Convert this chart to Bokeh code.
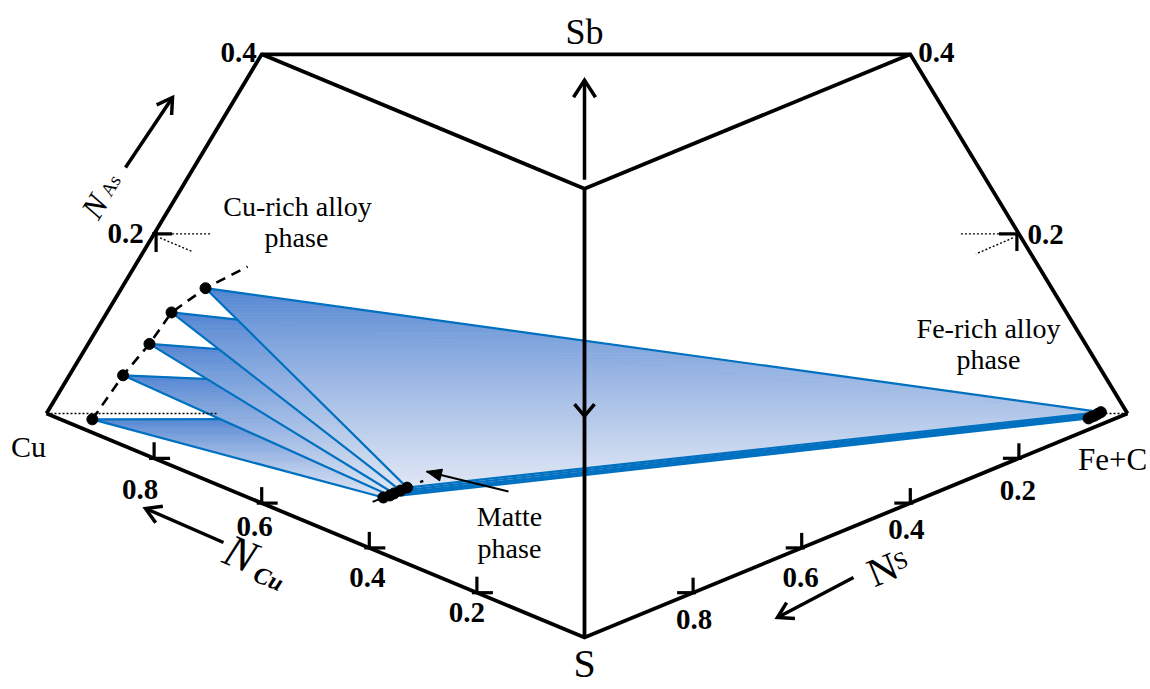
import numpy as np
from bokeh.plotting import figure
from bokeh.models import Range1d
from bokeh.embed import file_html
from bokeh.resources import INLINE
from bokeh.core.properties import value

W, H = 1150, 689
FONT = value("Liberation Serif")

# ---- data: tie-triangle compositions (mole fractions, N_Cu = 1 - N_S - N_Fe - N_As)
alloy_S = [0.030, 0.030, 0.030, 0.030, 0.030]
alloy_Fe = [0.027, 0.031, 0.038, 0.041, 0.059]
alloy_As = [0.001, 0.050, 0.085, 0.120, 0.147]

matte_S = [0.383, 0.386, 0.389, 0.388, 0.387]
matte_Fe = [0.120, 0.123, 0.124, 0.129, 0.134]
matte_As = [0.002, 0.005, 0.008, 0.011, 0.014]

fe_S = [0.030, 0.030, 0.030, 0.030, 0.030]
fe_Fe = [0.948, 0.950, 0.952, 0.954, 0.956]
fe_As = [0.002, 0.004, 0.005, 0.007, 0.009]

# last point of the Cu-rich alloy boundary curve
curve_end = (0.030, 0.086, 0.171)

cu_ticks = [0.8, 0.6, 0.4, 0.2]
s_ticks = [0.8, 0.6, 0.4, 0.2]
as_mid = 0.2
as_top = 0.4

# ---- projection of the Cu-S-(Fe+C)-As tetrahedron onto the page
V_CU = np.array([46.0, 276.0])
V_S = np.array([584.0, 52.0])
V_FE = np.array([1127.0, 276.0])
V_AS = np.array([584.0, 1174.0])


def proj(s, fe, a):
    s, fe, a = (np.asarray(v, dtype=float) for v in (s, fe, a))
    cu = 1.0 - s - fe - a
    x = cu * V_CU[0] + s * V_S[0] + fe * V_FE[0] + a * V_AS[0]
    y = cu * V_CU[1] + s * V_S[1] + fe * V_FE[1] + a * V_AS[1]
    return x, y


p = figure(width=W, height=H, x_range=Range1d(0, W), y_range=Range1d(0, H),
           output_backend="svg", toolbar_location=None,
           x_axis_location=None, y_axis_location=None, min_border=0)
p.outline_line_color = None
p.grid.visible = False
p.background_fill_color = "white"
p.border_fill_color = "white"

# ---- gradient-filled tie triangles
TOP = np.array([78, 130, 209])
BOT = np.array([224, 231, 245])
EDGE = "#0070c0"


def clip(poly, y0, keep_above):
    out = []
    n = len(poly)
    for i in range(n):
        P, Q = poly[i], poly[(i + 1) % n]
        inP = P[1] >= y0 if keep_above else P[1] <= y0
        inQ = Q[1] >= y0 if keep_above else Q[1] <= y0
        if inP:
            out.append(P)
        if inP != inQ:
            t = (y0 - P[1]) / (Q[1] - P[1])
            out.append((P[0] + t * (Q[0] - P[0]), y0))
    return out


ax, ay = proj(alloy_S, alloy_Fe, alloy_As)
mx, my = proj(matte_S, matte_Fe, matte_As)
fx, fy = proj(fe_S, fe_Fe, fe_As)

NSL = 70
for i in range(len(alloy_S)):
    tri = [(ax[i], ay[i]), (fx[i], fy[i]), (mx[i], my[i])]
    ys_ = [q[1] for q in tri]
    ytop, ybot = max(ys_), min(ys_)
    h = (ytop - ybot) / NSL
    xs, ys, cols = [], [], []
    for k in range(NSL):
        y1 = ytop - k * h
        y0 = ytop - (k + 1) * h
        poly = clip(clip(tri, y0, True), y1, False)
        if len(poly) < 3:
            continue
        t = ((k + 0.5) / NSL) ** 0.8
        c = (TOP + (BOT - TOP) * t).astype(int)
        xs.append([q[0] for q in poly])
        ys.append([q[1] for q in poly])
        cols.append("#%02x%02x%02x" % tuple(c))
    p.patches(xs, ys, fill_color=cols, line_color=cols, line_width=0.8)
    p.patch([q[0] for q in tri], [q[1] for q in tri], fill_alpha=0,
            line_color=EDGE, line_width=2.2, line_join="round")

# ---- frame of the truncated tetrahedron
cu = proj(0, 0, 0)
s_ = proj(1, 0, 0)
fe = proj(0, 1, 0)
tl = proj(0, 0, as_top)
tr = proj(0, 1 - as_top, as_top)
ctr = proj(1 - as_top, 0, as_top)
frame = [[cu, tl, tr, fe], [cu, s_, fe], [tl, ctr, tr], [ctr, s_]]
p.multi_line([[float(q[0]) for q in f] for f in frame],
             [[float(q[1]) for q in f] for f in frame],
             line_color="black", line_width=3.8, line_join="miter")

LW = 3.5


def head(tail, tip, length, half, width=LW, filled=False):
    tail, tip = np.array(tail, float), np.array(tip, float)
    d = tip - tail
    d /= np.hypot(*d)
    n = np.array([-d[1], d[0]])
    a = tip - length * d + half * n
    b = tip - length * d - half * n
    if filled:
        p.patch([a[0], tip[0], b[0]], [a[1], tip[1], b[1]], color="black")
    else:
        p.line([a[0], tip[0], b[0]], [a[1], tip[1], b[1]], line_color="black",
               line_width=width, line_join="miter")


def arrow(tail, tip, length, half, width=LW, filled=False):
    p.line([tail[0], tip[0]], [tail[1], tip[1]], line_color="black", line_width=width)
    head(tail, tip, length, half, width, filled)


# Sb direction and the downward arrow toward S
cx, cy = float(ctr[0]), float(ctr[1])
arrow((cx, cy + 9), (cx, float(tl[1]) - 26), 17, 11)
mid_y = (cy + float(s_[1])) / 2 - 3
head((cx, cy), (cx, mid_y), 12, 10)

# composition-axis arrows
arrow((125, 522), (172, 592), 15, 9)
arrow((223, 147), (145, 181), 15, 9)
arrow((853, 112), (777, 72), 15, 9)
# pointer to the matte phase
arrow((508, 198), (426, 218), 15, 6, width=2, filled=True)

# ---- ticks on the edges
tk = dict(line_color="black", line_width=3.2)
for v in cu_ticks:
    x, y = (float(c) for c in proj(1 - v, 0, 0))
    p.line([x, x], [y, y + 16], **tk)
    p.line([x - 5, x + 16], [y, y], **tk)
for v in s_ticks:
    x, y = (float(c) for c in proj(v, 1 - v, 0))
    p.line([x, x], [y, y + 15], **tk)
    p.line([x - 16, x + 3], [y, y], **tk)

lx, ly = (float(c) for c in proj(0, 0, as_mid))
p.line([lx - 2, lx + 18], [ly, ly], **tk)
p.line([lx + 2, lx + 2], [ly + 3, ly - 18], **tk)
rx, ry = (float(c) for c in proj(0, 1 - as_mid, as_mid))
p.line([rx - 20, rx], [ry, ry], **tk)
p.line([rx - 2, rx - 2], [ry + 1, ry - 17], **tk)

# dotted guides along Cu-Fe and toward S
dot = dict(line_color="black", line_width=1.4, line_dash="2 2")
p.line([float(cu[0]), float(cu[0]) + 170], [float(cu[1])] * 2, **dot)
p.line([float(fe[0]), float(fe[0]) - 32], [float(fe[1])] * 2, **dot)
p.line([lx + 18, lx + 58], [ly, ly], **dot)
p.line([lx + 6, lx + 39], [ly - 4, ly - 18], **dot)
p.line([rx - 20, rx - 60], [ry, ry], **dot)
p.line([rx - 6, rx - 43], [ry - 4, ry - 20], **dot)

# ---- phase boundaries and phase points
cex, cey = proj(*curve_end)
p.line(list(ax) + [float(cex)], list(ay) + [float(cey)], line_color="black",
       line_width=2.6, line_dash="10 7")

dvec = np.array([mx[-1] - mx[0], my[-1] - my[0]])
m_start = np.array([mx[0], my[0]]) - 0.45 * dvec
p.line([m_start[0], mx[-1]], [m_start[1], my[-1]], line_color="black", line_width=2)
t0 = np.array([mx[-1], my[-1]]) + 0.55 * dvec
t1 = np.array([mx[-1], my[-1]]) + 0.68 * dvec
p.line([t0[0], t1[0]], [t0[1], t1[1]], line_color="black", line_width=2.5)

p.scatter(ax, ay, size=11, color="black")
p.scatter(mx, my, size=11, color="black")
p.scatter(fx, fy, size=11, color="black")


# ---- text (positions are glyph centres)
def txt(x, y, s, size, style="normal", align="center", angle=0.0):
    p.text(x=[x], y=[y], text=[s], text_font=FONT, text_font_size=f"{size}px",
           text_font_style=style, text_align=align, text_baseline="middle",
           angle=angle, text_color="black")


txt(584, H - 31, "Sb", 36)
txt(float(s_[0]), H - 663, "S", 40)
txt(28, H - 446, "Cu", 30)
txt(1112, H - 459, "Fe+C", 31)

txt(297, H - 206, "Cu-rich alloy", 28)
txt(296, H - 237, "phase", 28)
txt(988, H - 328, "Fe-rich alloy", 28)
txt(988, H - 359, "phase", 28)
txt(509, H - 516, "Matte", 28)
txt(509, H - 548, "phase", 28)

TS = 29
txt(float(tl[0]) - 5, H - 52, "0.4", TS, "bold", align="right")
txt(float(tr[0]) + 8, H - 52, "0.4", TS, "bold", align="left")
txt(125, H - 233, "0.2", TS, "bold")
txt(1045, H - 234, "0.2", TS, "bold")

cu_lab_dx = [-14, -7, -2, -10]
cu_lab_dy = [31, 23, 30, 20]
for v, dx, dy in zip(cu_ticks, cu_lab_dx, cu_lab_dy):
    x, y = (float(c) for c in proj(1 - v, 0, 0))
    txt(x + dx, y - dy, f"{v:.1f}", TS, "bold")
s_lab_dx = [1, -1, -4, -1]
s_lab_dy = [27, 30, 26, 32]
for v, dx, dy in zip(s_ticks, s_lab_dx, s_lab_dy):
    x, y = (float(c) for c in proj(v, 1 - v, 0))
    txt(x + dx, y - dy, f"{v:.1f}", TS, "bold")

a_as = np.arctan2(float(tl[1] - cu[1]), float(tl[0] - cu[0]))
a_cu = np.arctan2(float(s_[1] - cu[1]), float(s_[0] - cu[0]))
a_s = np.arctan2(float(fe[1] - s_[1]), float(fe[0] - s_[0]))
txt(94, H - 206, "N", 32, "italic", angle=a_as)
txt(110, H - 185, "As", 19, angle=a_as)
txt(240, H - 553, "N", 46, "italic", angle=a_cu)
txt(268, H - 578, "Cu", 24, "bold italic", angle=a_cu)
txt(882, H - 569, "N", 40, angle=a_s)
txt(900, H - 560, "S", 24, angle=a_s)

open("out.html", "w").write(file_html(p, INLINE))
